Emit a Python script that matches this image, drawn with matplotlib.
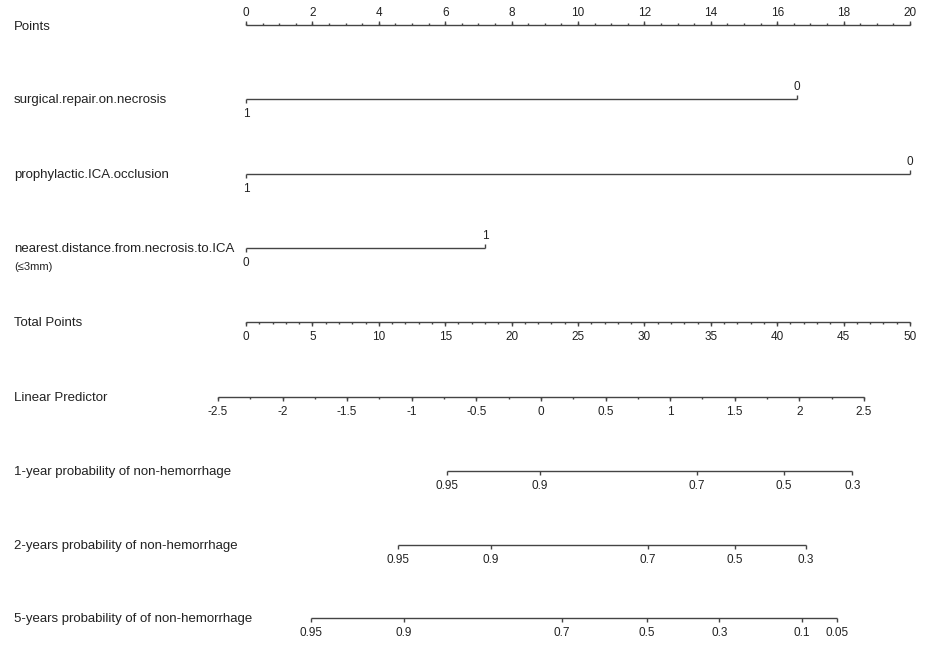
import numpy as np
import matplotlib.pyplot as plt
from matplotlib import transforms

plt.rcParams["font.family"] = ["Liberation Sans", "DejaVu Sans"]

# --- data ---
points_major = np.arange(0, 21, 2)
points_minor = np.arange(0, 20.01, 0.5)

variable_names = [
    "surgical.repair.on.necrosis",
    "prophylactic.ICA.occlusion",
    "nearest.distance.from.necrosis.to.ICA",
]
variable_levels = [["1", "0"], ["1", "0"], ["0", "1"]]
variable_points = [[0, 16.6], [0, 20.0], [0, 7.2]]

total_major = np.arange(0, 51, 5)
total_minor = np.arange(0, 51, 1)

lp_major = np.arange(-2.5, 2.51, 0.5)
lp_minor = np.arange(-2.5, 2.51, 0.25)
lp_at_zero_total = -2.283
lp_per_total_point = 0.1028

prob_names = [
    "1-year probability of non-hemorrhage",
    "2-years probability of non-hemorrhage",
    "5-years probability of of non-hemorrhage",
]
prob_labels = [
    ["0.95", "0.9", "0.7", "0.5", "0.3"],
    ["0.95", "0.9", "0.7", "0.5", "0.3"],
    ["0.95", "0.9", "0.7", "0.5", "0.3", "0.1", "0.05"],
]
prob_lp = [
    [-0.73, -0.01, 1.21, 1.88, 2.41],
    [-1.11, -0.39, 0.83, 1.50, 2.05],
    [-1.78, -1.06, 0.16, 0.82, 1.38, 2.02, 2.29],
]

# --- layout ---
W, H = 943, 649
PX_PER_POINT = 33.2
X0 = 246
LINE = "#444444"
TEXT = "#222222"
LW = 1.0
ROW_FS = 9.5
TICK_FS = 8.5
MAJ, MIN = 4, 2.2

row_y = {
    "points": 25, "vars": [99, 174, 248], "total": 322, "lp": 397,
    "probs": [471, 545, 618],
}

fig = plt.figure(figsize=(W / 100, H / 100), dpi=100)
ax = fig.add_axes([0, 0, 1, 1])
ax.set_xlim(-X0 / PX_PER_POINT, (W - X0) / PX_PER_POINT)
ax.set_ylim(H, 0)
ax.axis("off")
label_tr = transforms.blended_transform_factory(fig.transFigure, ax.transData)


def total_to_points(tp):
    return np.asarray(tp) * points_major.max() / total_major.max()


def lp_to_points(lp):
    return total_to_points((np.asarray(lp) - lp_at_zero_total) / lp_per_total_point)


def row_label(text, y):
    ax.text(14 / W, y + 1, text, transform=label_tr, ha="left", va="center",
            fontsize=ROW_FS, color=TEXT)


def axis_line(x0, x1, y):
    ax.plot([x0, x1], [y, y], color=LINE, lw=LW, solid_capstyle="butt")


def ticks(xs, y, length, up):
    y1 = y - length if up else y + length
    ax.vlines(xs, y, y1, color=LINE, lw=LW)


def tick_labels(xs, labels, y, up):
    yy = y - 12 if up else y + 15
    for x, s in zip(xs, labels):
        ax.text(x, yy, s, ha="center", va="center", fontsize=TICK_FS, color=TEXT)


# Points
y = row_y["points"]
row_label("Points", y + 1)
axis_line(0, points_major.max(), y)
ticks(points_minor, y, MIN, up=True)
ticks(points_major, y, MAJ, up=True)
tick_labels(points_major, [f"{v:g}" for v in points_major], y, up=True)

# Variables
for name, levels, pts, y in zip(variable_names, variable_levels, variable_points, row_y["vars"]):
    row_label(name, y)
    axis_line(pts[0], pts[1], y)
    ticks([pts[0]], y, MAJ, up=False)
    ticks([pts[1]], y, MAJ, up=True)
    tick_labels([pts[0]], [levels[0]], y, up=False)
    tick_labels([pts[1]], [levels[1]], y, up=True)
ax.text(14 / W, row_y["vars"][2] + 19, "(\u22643mm)", transform=label_tr,
        ha="left", va="center", fontsize=8, color=TEXT)

# Total Points
y = row_y["total"]
row_label("Total Points", y)
axis_line(0, total_to_points(total_major.max()), y)
ticks(total_to_points(total_minor), y, MIN, up=False)
ticks(total_to_points(total_major), y, MAJ, up=False)
tick_labels(total_to_points(total_major), [f"{v:g}" for v in total_major], y, up=False)

# Linear Predictor
y = row_y["lp"]
row_label("Linear Predictor", y)
axis_line(lp_to_points(lp_major.min()), lp_to_points(lp_major.max()), y)
ticks(lp_to_points(lp_minor), y, MIN, up=False)
ticks(lp_to_points(lp_major), y, MAJ, up=False)
tick_labels(lp_to_points(lp_major), [f"{v:g}" for v in lp_major], y, up=False)

# Survival probabilities
for name, labels, lps, y in zip(prob_names, prob_labels, prob_lp, row_y["probs"]):
    row_label(name, y)
    xs = lp_to_points(lps)
    axis_line(xs.min(), xs.max(), y)
    ticks(xs, y, MAJ, up=False)
    tick_labels(xs, labels, y, up=False)

fig.savefig("out.png", dpi=100, facecolor="white")
